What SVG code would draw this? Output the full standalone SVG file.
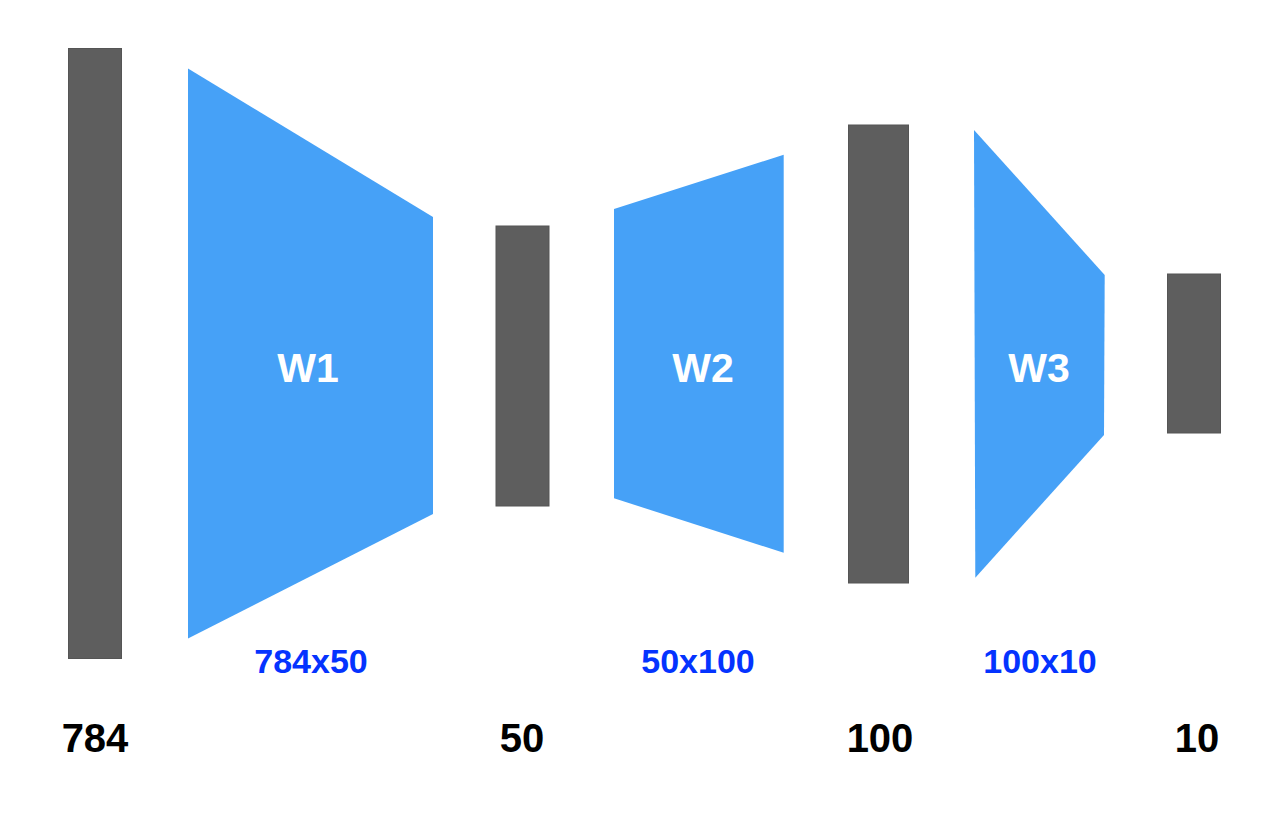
<svg xmlns="http://www.w3.org/2000/svg" width="1280" height="815" viewBox="0 0 1280 815">
<style>
.bar{fill:#5e5e5e;stroke:#555;stroke-width:1}
.w{fill:#46a1f7}
.wl{font-family:"Liberation Sans",Arial,sans-serif;font-weight:bold;font-size:41px;fill:#fff;text-anchor:middle}
.dim{font-family:"Liberation Sans",Arial,sans-serif;font-weight:bold;font-size:34px;fill:#0433ff;text-anchor:middle}
.n{font-family:"Liberation Sans",Arial,sans-serif;font-weight:bold;font-size:40px;fill:#000;text-anchor:middle}
</style>
<rect width="1280" height="815" fill="#fff"/>
<g id="layer784"><rect class="bar" x="68.5" y="48.5" width="53" height="610"/><text class="n" x="95" y="752">784</text></g>
<g id="W1"><polygon class="w" points="188,68.5 433,217 433,514 188,638.5"/><text class="wl" x="308" y="382">W1</text><text class="dim" x="311" y="673">784x50</text></g>
<g id="layer50"><rect class="bar" x="496" y="226" width="53" height="280"/><text class="n" x="522" y="752">50</text></g>
<g id="W2"><polygon class="w" points="614,209 783.7,154.7 783.7,552.7 614,498.3"/><text class="wl" x="703" y="382">W2</text><text class="dim" x="698" y="673">50x100</text></g>
<g id="layer100"><rect class="bar" x="848.5" y="125" width="60" height="458"/><text class="n" x="880" y="752">100</text></g>
<g id="W3"><polygon class="w" points="974,130 1104.7,275 1104,435 975.3,577.7"/><text class="wl" x="1039" y="382">W3</text><text class="dim" x="1040" y="673">100x10</text></g>
<g id="layer10"><rect class="bar" x="1167.5" y="274" width="53" height="159"/><text class="n" x="1197" y="752">10</text></g>
<g id="connectors"></g>
</svg>
